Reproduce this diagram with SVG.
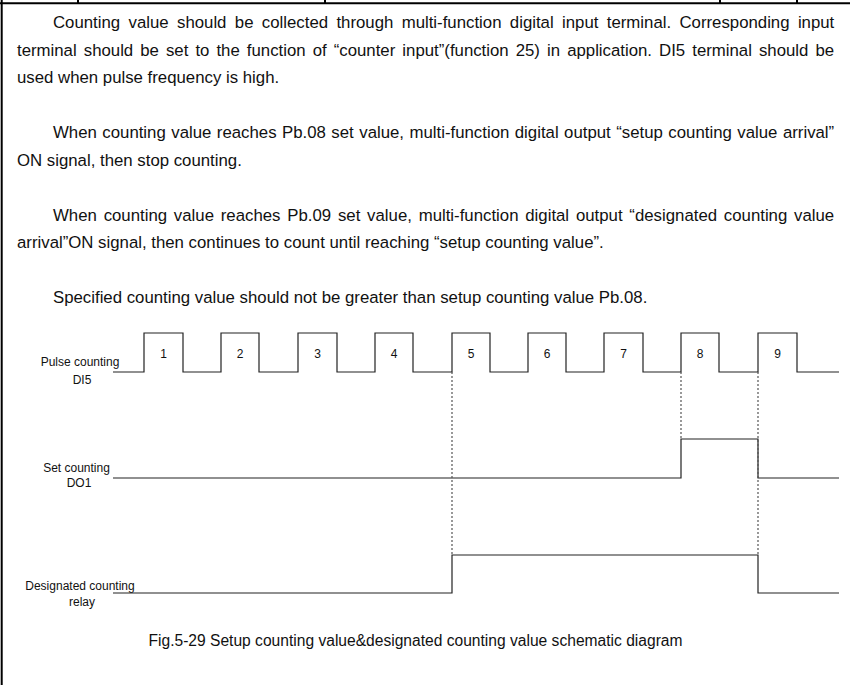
<svg xmlns="http://www.w3.org/2000/svg" width="850" height="685" viewBox="0 0 850 685">
<style>
.body{font-family:"Liberation Sans",Arial,sans-serif;font-size:16.8px;fill:#111}
.cap{font-family:"Liberation Sans",Arial,sans-serif;font-size:15.6px;fill:#111;text-anchor:middle}
.lbl{font-family:"Liberation Sans",Arial,sans-serif;font-size:12px;fill:#111;text-anchor:middle}
.num{font-family:"Liberation Sans",Arial,sans-serif;font-size:12px;fill:#111;text-anchor:middle}
.frame{stroke:#000;stroke-width:2;fill:none}
.wave{stroke:#222;stroke-width:1.2;fill:none}
.dash{stroke:#555;stroke-width:1.2;stroke-dasharray:2 2;fill:none}
</style>
<rect width="850" height="685" fill="#fff"/>
<g id="frame">
<line class="frame" x1="0" y1="3.3" x2="850" y2="3.3"/>
<line class="frame" x1="1.7" y1="0" x2="1.7" y2="685"/>
<line class="frame" x1="78" y1="0" x2="78" y2="3"/>
<line class="frame" x1="325" y1="0" x2="325" y2="3"/>
<line class="frame" x1="720" y1="0" x2="720" y2="3"/>
<line class="frame" x1="797" y1="0" x2="797" y2="3"/>
</g>
<g id="text">
<text class="body" x="53" y="28" word-spacing="3.69">Counting value should be collected through multi-function digital input terminal. Corresponding input</text>
<text class="body" x="17" y="55.5" word-spacing="2.39">terminal should be set to the function of “counter input”(function 25) in application. DI5 terminal should be</text>
<text class="body" x="17" y="83">used when pulse frequency is high.</text>
<text class="body" x="53" y="138" word-spacing="0.82">When counting value reaches Pb.08 set value, multi-function digital output “setup counting value arrival”</text>
<text class="body" x="17" y="165.5">ON signal, then stop counting.</text>
<text class="body" x="53" y="220.5" word-spacing="2.13">When counting value reaches Pb.09 set value, multi-function digital output “designated counting value</text>
<text class="body" x="17" y="248">arrival”ON signal, then continues to count until reaching “setup counting value”.</text>
<text class="body" x="53" y="303">Specified counting value should not be greater than setup counting value Pb.08.</text>
<text class="cap" x="415.5" y="646">Fig.5-29 Setup counting value&amp;designated counting value schematic diagram</text>
</g>
<g id="pulse">
<text class="lbl" x="80" y="366">Pulse counting</text>
<text class="lbl" x="82" y="384">DI5</text>
<path class="wave" d="M113 372H144V333H183V372H221V333H259V372H298V333H337V372H375V333H413V372H452V333H490V372H528V333H566V372H604V333H643V372H681V333H719V372H758V333H797V372H839"/>
<text class="num" x="163.5" y="358">1</text>
<text class="num" x="240" y="358">2</text>
<text class="num" x="317.5" y="358">3</text>
<text class="num" x="394" y="358">4</text>
<text class="num" x="471" y="358">5</text>
<text class="num" x="547" y="358">6</text>
<text class="num" x="623.5" y="358">7</text>
<text class="num" x="700" y="358">8</text>
<text class="num" x="777.5" y="358">9</text>
</g>
<g id="set-counting">
<text class="lbl" x="76.5" y="472">Set counting</text>
<text class="lbl" x="79" y="487">DO1</text>
<path class="wave" d="M113 478H681V439H758V478H839"/>
</g>
<g id="relay">
<text class="lbl" x="80" y="590">Designated counting</text>
<text class="lbl" x="82" y="606">relay</text>
<path class="wave" d="M113 593H452V555H758V593H839"/>
</g>
<g id="connectors">
<line class="dash" x1="452" y1="372" x2="452" y2="555"/>
<line class="dash" x1="681" y1="372" x2="681" y2="439"/>
<line class="dash" x1="758" y1="372" x2="758" y2="555"/>
</g>
</svg>
